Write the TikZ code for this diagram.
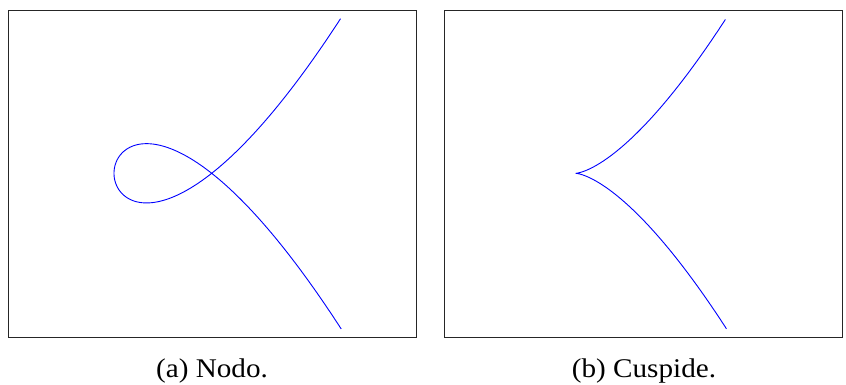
\documentclass[tikz,border=0pt]{standalone}
\usepackage{fontspec}
\setmainfont{Liberation Serif}
\begin{document}
\begin{tikzpicture}[x=1pt,y=-1pt,
  frame/.style={draw=black!85,line width=0.8pt},
  curve/.style={draw=blue,line width=0.9pt},
  caption/.style={font=\fontsize{27}{31}\selectfont,inner sep=0pt,anchor=base}]
\useasboundingbox (0,0) rectangle (846,385);
% frames
\draw[frame] (8,10) rectangle (416,337);
\draw[frame] (444,10) rectangle (842,337);
% node curve
\draw[curve] plot[domain=-1.525:1.525,samples=300,smooth]
  ({211.7+97.7*(\x*\x-1)},{173.3-77*\x*(\x*\x-1)});
% cusp curve
\draw[curve] plot[domain=-1.25:1.25,samples=300,smooth]
  ({575.5+96.6*\x*\x},{173.3-79.6*\x*\x*\x});
\node[caption] (capa) at (212,377) {\scalebox{1.08}[1]{(a) Nodo.}};
\node[caption] (capb) at (644,377) {\scalebox{1.08}[1]{(b) Cuspide.}};
\end{tikzpicture}
\end{document}
